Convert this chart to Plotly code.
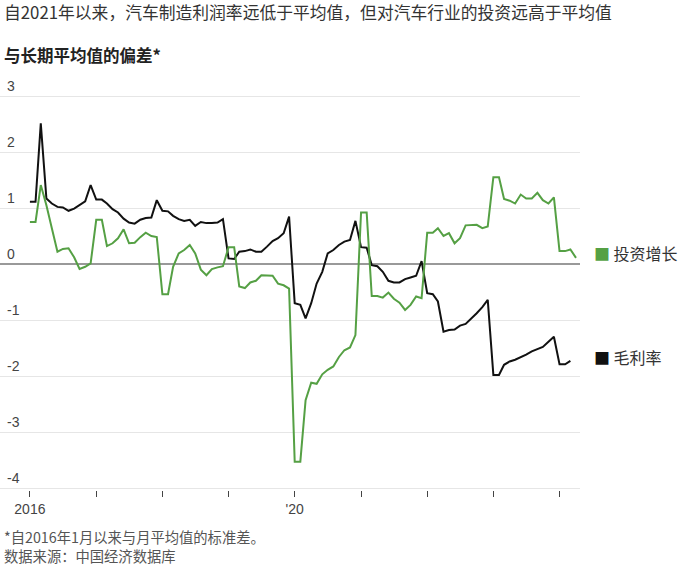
import pandas as pd
import plotly.graph_objects as go

# Monthly series, Jan 2016 onward (deviation from long-term average, in std devs)
margin_vals = [
    1.11, 1.11, 2.51, 1.17, 1.08, 1.02, 1.01, 0.95, 0.99, 1.05, 1.12, 1.41,
    1.15, 1.15, 1.08, 0.98, 0.92, 0.81, 0.74, 0.72, 0.79, 0.82, 0.83, 1.14,
    0.95, 0.94, 0.86, 0.80, 0.77, 0.79, 0.68, 0.75, 0.73, 0.73, 0.74, 0.80,
    0.10, 0.09, 0.22, 0.23, 0.26, 0.22, 0.22, 0.31, 0.41, 0.46, 0.55, 0.845,
    -0.70, -0.73, -0.97, -0.70, -0.35, -0.14, 0.19, 0.25, 0.34, 0.40, 0.43, 0.77,
    0.30, 0.29, -0.02, -0.04, -0.14, -0.30, -0.33, -0.33, -0.27, -0.24, -0.21, 0.05,
    -0.52, -0.54, -0.67, -1.21, -1.18, -1.17, -1.10, -1.07, -0.98, -0.88, -0.77, -0.64,
    -1.98, -1.98, -1.80, -1.74, -1.71, -1.67, -1.62, -1.56, -1.52, -1.48, -1.39, -1.30,
    -1.79, -1.79, -1.73,
]
invest_vals = [
    0.75, 0.75, 1.41, 1.05, 0.64, 0.22, 0.27, 0.28, 0.12, -0.09, -0.05, 0.01,
    0.79, 0.79, 0.32, 0.37, 0.46, 0.62, 0.37, 0.38, 0.48, 0.56, 0.50, 0.48,
    -0.54, -0.54, -0.05, 0.19, 0.25, 0.34, 0.19, -0.10, -0.20, -0.09, -0.06, -0.04,
    0.30, 0.30, -0.40, -0.43, -0.33, -0.30, -0.20, -0.20, -0.21, -0.35, -0.38, -0.44,
    -3.53, -3.53, -2.43, -2.12, -2.14, -1.97, -1.89, -1.83, -1.66, -1.54, -1.49, -1.27,
    0.92, 0.92, -0.57, -0.57, -0.60, -0.51, -0.62, -0.69, -0.82, -0.73, -0.58, -0.61,
    0.56, 0.56, 0.64, 0.50, 0.55, 0.37, 0.46, 0.69, 0.70, 0.70, 0.64, 0.67,
    1.55, 1.55, 1.16, 1.13, 1.08, 1.24, 1.17, 1.17, 1.27, 1.14, 1.08, 1.19,
    0.23, 0.23, 0.26, 0.11,
]
margin_dates = pd.date_range("2016-01-01", periods=len(margin_vals), freq="MS")
invest_dates = pd.date_range("2016-01-01", periods=len(invest_vals), freq="MS")

x_tick_vals = [f"{y}-01-01" for y in range(2016, 2025)]
x_tick_text = ["2016", "", "", "", "'20", "", "", "", ""]
y_tick_vals = [3, 2, 1, 0, -1, -2, -3, -4]
y_tick_text = ["3", "2", "1", "0", "-1", "-2", "-3", "-4"]

series_names = ["投资增长", "毛利率"]
title_text = "自2021年以来，汽车制造利润率远低于平均值，但对汽车行业的投资远高于平均值"
subtitle_text = "与长期平均值的偏差*"
note_text = "*自2016年1月以来与月平均值的标准差。"
source_text = "数据来源：中国经济数据库"

GREEN = "#55a044"
BLACK = "#111111"
CJK = "Noto Sans CJK SC, Liberation Sans, sans-serif"
LAT = "Liberation Sans, Arial, sans-serif"

fig = go.Figure()
fig.add_trace(go.Scatter(x=margin_dates, y=margin_vals, mode="lines",
                         line=dict(color=BLACK, width=2), name=series_names[1],
                         showlegend=False))
fig.add_trace(go.Scatter(x=invest_dates, y=invest_vals, mode="lines",
                         line=dict(color=GREEN, width=2), name=series_names[0],
                         showlegend=False))

PX = 56.0          # pixels per unit on the y axis
TOP, BOT = 76, 490  # plot area top / bottom in pixels
y_lo = -4 - (BOT - 488) / PX
y_hi = 3 + (96 - TOP) / PX
H = BOT - TOP

fig.update_layout(
    width=700, height=565,
    margin=dict(l=0, r=120, t=TOP, b=565 - BOT, autoexpand=False),
    paper_bgcolor="white", plot_bgcolor="white",
    font=dict(family=CJK, color="#333333"),
    xaxis=dict(
        type="date",
        range=["2015-07-20", "2024-04-23"],
        tickvals=x_tick_vals, ticktext=x_tick_text,
        ticks="outside", ticklen=6, tickcolor="#444444", tickwidth=1,
        showgrid=False, zeroline=False, showline=False,
        tickfont=dict(family=LAT, size=14, color="#444444"),
    ),
    yaxis=dict(
        range=[y_lo, y_hi],
        tickvals=y_tick_vals, ticktext=y_tick_text,
        ticklabelposition="inside top",
        ticklabelstandoff=4,
        showgrid=True, gridcolor="#e6e6e6", gridwidth=1,
        zeroline=True, zerolinecolor="#999999", zerolinewidth=2,
        showline=False, ticks="",
        tickfont=dict(family=LAT, size=14, color="#444444"),
    ),
)

def py(pix):
    return (BOT - pix) / H

annots = [
    dict(text=title_text, x=0.003, y=py(12), font=dict(size=16.8, color="#333333")),
    dict(text="<b>" + subtitle_text + "</b>", x=0.003, y=py(55),
         font=dict(size=16.5, color="#222222")),
    dict(text=note_text, x=0.003, y=py(536), font=dict(size=14.3, color="#555555")),
    dict(text=source_text, x=0.003, y=py(555), font=dict(size=14.3, color="#555555")),
]
for a in annots:
    fig.add_annotation(xref="paper", yref="paper", xanchor="left", yanchor="middle",
                       showarrow=False, **a)

fig.add_annotation(xref="paper", yref="y", x=1.02, y=0.196, xanchor="left", yanchor="middle",
                   showarrow=False,
                   text=f'<span style="color:{GREEN}">■</span> {series_names[0]}',
                   font=dict(size=16, color="#333333"))
fig.add_annotation(xref="paper", yref="y", x=1.02, y=-1.66, xanchor="left", yanchor="middle",
                   showarrow=False,
                   text=f'<span style="color:{BLACK}">■</span> {series_names[1]}',
                   font=dict(size=16, color="#333333"))

fig.write_html("out.html", config={"displayModeBar": False},
               post_script="document.body.style.margin='0px';")
